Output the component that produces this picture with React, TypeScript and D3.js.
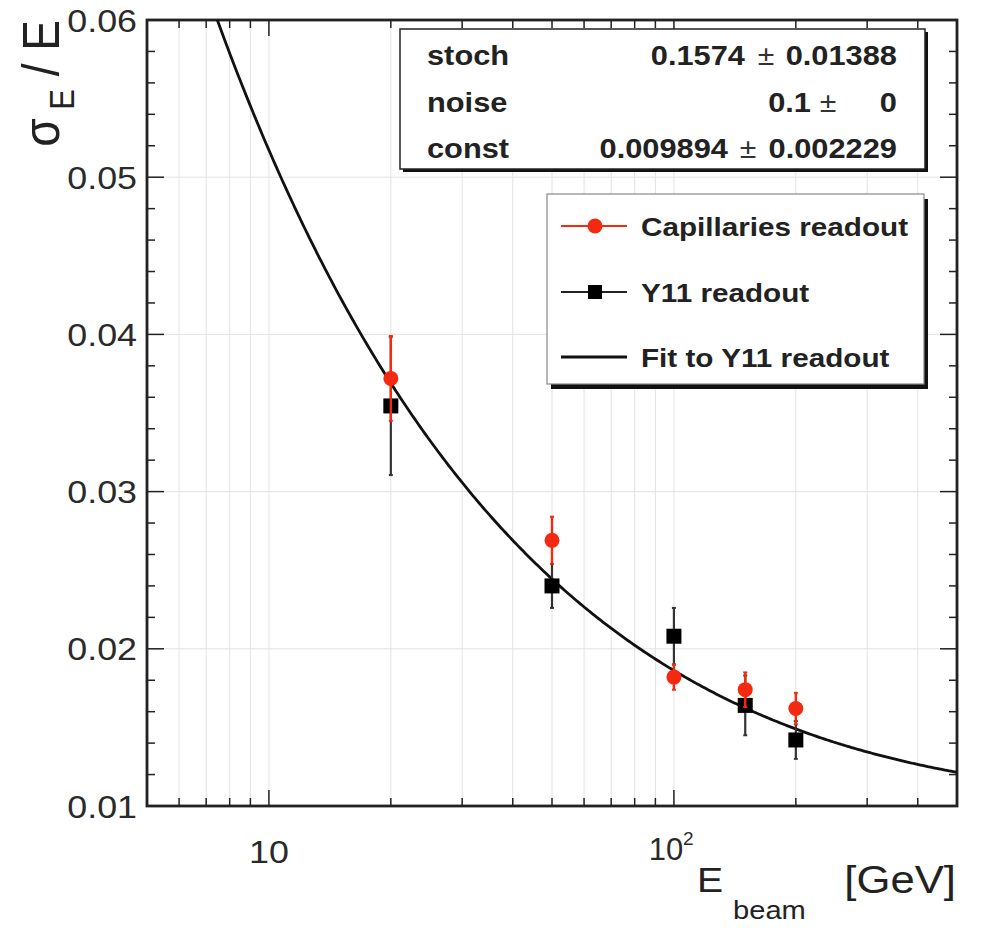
import React from "react";
import * as d3 from "d3";

// ---- data ----
const energies = [20, 50, 100, 150, 200];
const capValues = [0.0372, 0.0269, 0.0182, 0.0174, 0.0162];
const capErrors = [0.0027, 0.0015, 0.0008, 0.0011, 0.001];
const y11Values = [0.03545, 0.024, 0.0208, 0.0164, 0.0142];
const y11Errors = [0.0044, 0.0014, 0.0018, 0.0019, 0.0012];
const fitParams = [0.1574, 0.1, 0.009894]; // stoch, noise, const
const statNames = ["stoch", "noise", "const"];
const statValues = ["0.1574", "0.1", "0.009894"];
const statErrors = ["0.01388", "0", "0.002229"];
const yTicks = [0.01, 0.02, 0.03, 0.04, 0.05, 0.06];
const yTickLabels = ["0.01", "0.02", "0.03", "0.04", "0.05", "0.06"];
const xMajor = [10, 100];
const legendLabels = ["Capillaries readout", "Y11 readout", "Fit to Y11 readout"];

const W = 981, H = 928;
const L = 147, R = 957, T = 20, B = 806;
const K = 1.12;
const FONT = "'Liberation Sans', Arial, Helvetica, sans-serif";

const x = d3.scaleLog().domain([5, 500]).range([L, R]);
const y = d3.scaleLinear().domain([0.01, 0.06]).range([B, T]);

function Tx({ x, y, size, anchor = "start", weight = "normal", rotate = 0, fill = "#111", k = K, children }: any) {
  return (
    <text
      transform={`translate(${x},${y}) scale(${k},1)${rotate ? ` rotate(${rotate})` : ""}`}
      fontSize={size}
      fontFamily={FONT}
      fontWeight={weight}
      textAnchor={anchor}
      fill={fill}
      xmlSpace="preserve"
    >
      {children}
    </text>
  );
}

export default function App() {
  const fit = (e: number) =>
    Math.sqrt((fitParams[0] / Math.sqrt(e)) ** 2 + (fitParams[1] / e) ** 2 + fitParams[2] ** 2);
  const logE = d3.range(Math.log10(5), Math.log10(500) + 1e-9, 0.005);
  const curve = logE.map((l) => [Math.pow(10, l), fit(Math.pow(10, l))] as [number, number]);
  const line = d3
    .line<[number, number]>()
    .x((d) => x(d[0]))
    .y((d) => y(d[1]));

  const xAll: number[] = [];
  [1, 10, 100].forEach((dec) => {
    for (let m = 1; m <= 9; m++) {
      const v = m * dec;
      if (v > 5 && v < 500) xAll.push(v);
    }
  });
  const yMinor = d3.range(0, 26).map((i) => 0.01 + i * 0.002);

  const statsBox = { x: 400, y: 29, w: 525, h: 140 };
  const legBox = { x: 547, y: 194, w: 377, h: 190 };
  const statRowY = [65, 112, 158];
  const pmX = [766, 828, 748];
  const valEnd = [745, 811, 728];
  const legRowY = [226, 292, 357];
  const red = "#f42a10";

  return (
    <svg width={W} height={H} style={{ display: "block", position: "absolute", left: 0, top: 0, background: "#fff" }}>
      <defs>
        <clipPath id="plot">
          <rect x={L} y={T} width={R - L} height={B - T} />
        </clipPath>
      </defs>
      <rect x={0} y={0} width={W} height={H} fill="#fff" />
      {/* grid */}
      <g stroke="#e2e2e2" strokeWidth={1}>
        {xAll.map((v) => (
          <line key={"gx" + v} x1={x(v)} x2={x(v)} y1={T} y2={B} />
        ))}
        {yTicks.slice(1, -1).map((v) => (
          <line key={"gy" + v} x1={L} x2={R} y1={y(v)} y2={y(v)} />
        ))}
      </g>
      {/* ticks */}
      <g stroke="#222" strokeWidth={1.5}>
        {yMinor.map((v, i) => {
          const len = i % 5 === 0 ? 17 : 8;
          return (
            <g key={"yt" + i}>
              <line x1={L} x2={L + len} y1={y(v)} y2={y(v)} />
              <line x1={R} x2={R - len} y1={y(v)} y2={y(v)} />
            </g>
          );
        })}
        {xAll.map((v) => {
          const len = xMajor.includes(v) ? 16 : 8;
          return (
            <g key={"xt" + v}>
              <line x1={x(v)} x2={x(v)} y1={B} y2={B - len} />
              <line x1={x(v)} x2={x(v)} y1={T} y2={T + len} />
            </g>
          );
        })}
      </g>
      {/* frame */}
      <rect x={L} y={T} width={R - L} height={B - T} fill="none" stroke="#222" strokeWidth={2.8} />

      {/* fit curve */}
      <g clipPath="url(#plot)">
        <path d={line(curve) || ""} fill="none" stroke="#111" strokeWidth={2.8} />
      </g>

      {/* Y11 points */}
      {energies.map((e, i) => (
        <g key={"b" + i}>
          <line x1={x(e)} x2={x(e)} y1={y(y11Values[i] - y11Errors[i])} y2={y(y11Values[i] + y11Errors[i])} stroke="#333" strokeWidth={2.2} />
          <line x1={x(e) - 2} x2={x(e) + 2} y1={y(y11Values[i] - y11Errors[i])} y2={y(y11Values[i] - y11Errors[i])} stroke="#333" strokeWidth={2} />
          <line x1={x(e) - 2} x2={x(e) + 2} y1={y(y11Values[i] + y11Errors[i])} y2={y(y11Values[i] + y11Errors[i])} stroke="#333" strokeWidth={2} />
          <rect x={x(e) - 7.5} y={y(y11Values[i]) - 7.5} width={15} height={15} fill="#000" />
        </g>
      ))}
      {/* Capillaries points */}
      {energies.map((e, i) => (
        <g key={"r" + i}>
          <line x1={x(e)} x2={x(e)} y1={y(capValues[i] - capErrors[i])} y2={y(capValues[i] + capErrors[i])} stroke={red} strokeWidth={2.4} />
          <line x1={x(e) - 2} x2={x(e) + 2} y1={y(capValues[i] + capErrors[i])} y2={y(capValues[i] + capErrors[i])} stroke={red} strokeWidth={2} />
          <line x1={x(e) - 2} x2={x(e) + 2} y1={y(capValues[i] - capErrors[i])} y2={y(capValues[i] - capErrors[i])} stroke={red} strokeWidth={2} />
          <circle cx={x(e)} cy={y(capValues[i])} r={7.5} fill={red} />
        </g>
      ))}

      {/* y tick labels */}
      {yTicks.map((v, i) => (
        <Tx key={"yl" + i} x={137} y={y(v) + 11.5} size={32} anchor="end" fill="#2a2a2a">
          {yTickLabels[i]}
        </Tx>
      ))}
      {/* x tick labels */}
      <Tx x={x(10)} y={863} size={32} anchor="middle" fill="#2a2a2a">10</Tx>
      <Tx x={666} y={860} size={31} anchor="middle" k={1} fill="#2a2a2a">10</Tx>
      <Tx x={683} y={845} size={19} anchor="start" k={1} fill="#2a2a2a">2</Tx>

      {/* axis titles */}
      <Tx x={59} y={20} size={46} anchor="end" rotate={-90} fill="#222">
        σ<tspan fontSize={31} dy={13}> E</tspan>
        <tspan dy={-13}> / E</tspan>
      </Tx>
      <Tx x={697} y={892} size={35} fill="#222">E</Tx>
      <Tx x={733} y={919} size={26} fill="#222">beam</Tx>
      <Tx x={956} y={893} size={39} anchor="end" fill="#222">[GeV]</Tx>

      {/* stats box */}
      <rect x={statsBox.x + 3} y={statsBox.y + 3} width={statsBox.w} height={statsBox.h} fill="#111" />
      <rect x={statsBox.x} y={statsBox.y} width={statsBox.w} height={statsBox.h} fill="#fff" stroke="#222" strokeWidth={1.5} />
      {statNames.map((n, i) => (
        <g key={"s" + i}>
          <Tx x={427} y={statRowY[i]} size={27.5} weight="bold" fill="#222">{n}</Tx>
          <Tx x={valEnd[i]} y={statRowY[i]} size={27.5} weight="bold" anchor="end" fill="#222">{statValues[i]}</Tx>
          <Tx x={pmX[i]} y={statRowY[i]} size={27} anchor="middle" fill="#333">±</Tx>
          <Tx x={897} y={statRowY[i]} size={27.5} weight="bold" anchor="end" fill="#222">{statErrors[i]}</Tx>
        </g>
      ))}

      {/* legend */}
      <rect x={legBox.x + 4} y={legBox.y + 5} width={legBox.w} height={legBox.h} fill="#111" />
      <rect x={legBox.x} y={legBox.y} width={legBox.w} height={legBox.h} fill="#fff" stroke="#888" strokeWidth={1.2} />
      <line x1={561} x2={627} y1={legRowY[0]} y2={legRowY[0]} stroke={red} strokeWidth={2} />
      <circle cx={595} cy={legRowY[0]} r={7.5} fill={red} />
      <line x1={561} x2={627} y1={legRowY[1]} y2={legRowY[1]} stroke="#222" strokeWidth={2} />
      <rect x={595 - 7} y={legRowY[1] - 7} width={14} height={14} fill="#000" />
      <line x1={561} x2={627} y1={legRowY[2]} y2={legRowY[2]} stroke="#111" strokeWidth={2.8} />
      {legendLabels.map((t, i) => (
        <Tx key={"l" + i} x={641} y={legRowY[i] + 10} size={26.5} weight="bold" fill="#222">{t}</Tx>
      ))}
    </svg>
  );
}
